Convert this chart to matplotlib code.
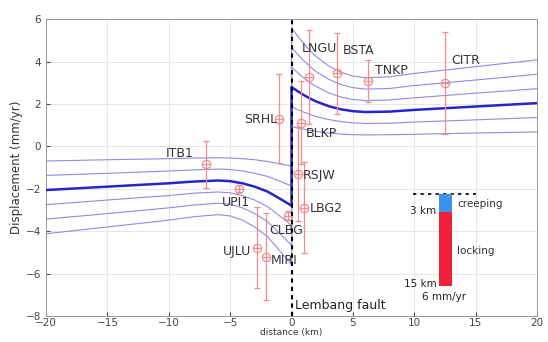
import numpy as np
import matplotlib.pyplot as plt

# model curves, left and right of the fault
x_left = [-20, -15, -10, -8, -6, -5, -4, -3, -2, -1.5, -1, -0.5, 0]
x_right = [0, 0.5, 1, 1.5, 2, 3, 4, 5, 6, 8, 10, 15, 20]

best_left = [-2.06, -1.90, -1.74, -1.66, -1.61, -1.64, -1.74, -1.90, -2.12, -2.28, -2.45, -2.62, -2.80]
best_right = [2.80, 2.60, 2.42, 2.26, 2.12, 1.90, 1.75, 1.66, 1.62, 1.64, 1.72, 1.88, 2.04]

thin_left = [
    [-0.69, -0.63, -0.58, -0.55, -0.54, -0.55, -0.58, -0.63, -0.71, -0.76, -0.82, -0.87, -0.93],
    [-1.37, -1.27, -1.16, -1.11, -1.07, -1.09, -1.16, -1.27, -1.41, -1.52, -1.63, -1.75, -1.87],
    [-2.75, -2.53, -2.32, -2.21, -2.15, -2.19, -2.32, -2.53, -2.83, -3.04, -3.27, -3.49, -3.73],
    [-3.43, -3.17, -2.90, -2.77, -2.68, -2.73, -2.90, -3.17, -3.53, -3.80, -4.08, -4.37, -4.67],
    [-4.12, -3.80, -3.48, -3.32, -3.22, -3.28, -3.48, -3.80, -4.24, -4.56, -4.90, -5.24, -5.60],
]
thin_right = [
    [0.93, 0.87, 0.81, 0.75, 0.71, 0.63, 0.58, 0.55, 0.54, 0.55, 0.57, 0.63, 0.68],
    [1.87, 1.73, 1.61, 1.51, 1.41, 1.27, 1.17, 1.11, 1.08, 1.09, 1.15, 1.25, 1.36],
    [3.73, 3.47, 3.23, 3.01, 2.83, 2.53, 2.33, 2.21, 2.16, 2.19, 2.29, 2.51, 2.72],
    [4.67, 4.33, 4.03, 3.77, 3.53, 3.17, 2.92, 2.77, 2.70, 2.73, 2.87, 3.13, 3.40],
    [5.60, 5.20, 4.84, 4.52, 4.24, 3.80, 3.50, 3.32, 3.24, 3.28, 3.44, 3.76, 4.08],
]

# GPS stations
stations = ['ITB1', 'UPI1', 'UJLU', 'MIRI', 'SRHL', 'CLBG', 'BLKP', 'RSJW', 'LBG2',
            'LNGU', 'BSTA', 'TNKP', 'CITR']
st_x = [-7.0, -4.3, -2.8, -2.05, -1.0, -0.3, 0.75, 0.5, 1.0, 1.45, 3.7, 6.2, 12.5]
st_y = [-0.85, -2.0, -4.77, -5.2, 1.3, -3.27, 1.12, -1.3, -2.9, 3.27, 3.45, 3.08, 3.0]
st_err = [1.1, 0.17, 1.9, 2.05, 2.1, 0.2, 1.96, 2.2, 2.15, 2.2, 1.9, 1.0, 2.4]
lab_x = [-9.1, -4.5, -3.3, -1.7, -1.15, -1.8, 1.15, 0.9, 1.5, 0.8, 4.15, 6.8, 13.0]
lab_y = [-0.33, -2.66, -4.95, -5.4, 1.26, -3.97, 0.6, -1.36, -2.95, 4.6, 4.5, 3.6, 4.05]
lab_ha = ['center', 'center', 'right', 'left', 'right', 'left', 'left', 'left', 'left',
          'left', 'left', 'left', 'left']

fig = plt.figure(figsize=(5.48, 3.42), dpi=100)
ax = fig.add_axes([0.084, 0.076, 0.896, 0.868])

thin_col = '#8c8ce6'
for yl, yr in zip(thin_left, thin_right):
    ax.plot(x_left + x_right, yl + yr, color=thin_col, lw=0.8, zorder=2)
ax.plot(x_left + x_right, best_left + best_right, color='#2626c8', lw=1.8, zorder=3)

red = '#f08c8c'
ax.errorbar(st_x, st_y, yerr=st_err, fmt='o', mfc='none', mec=red, ecolor=red,
            ms=6, mew=0.9, elinewidth=0.9, capsize=2, zorder=4)
ax.plot(st_x, st_y, '_', color=red, ms=6, mew=0.9, zorder=4)
for name, tx, ty, ha in zip(stations, lab_x, lab_y, lab_ha):
    ax.text(tx, ty, name, fontsize=9, ha=ha, va='center', color='#333333', zorder=5)

# fault trace
ax.plot([0, 0], [-8, 6], color='k', lw=1.5, ls=(0, (2, 2)), zorder=5)
ax.text(0.3, -7.5, 'Lembang fault', fontsize=9, va='center', color='#222222')

# fault geometry sketch
ax.plot([9.9, 15.0], [-2.24, -2.24], color='k', lw=1.2, ls=(0, (2, 2.5)))
ax.bar(12.55, -3.08 + 2.24, bottom=-2.24, width=1.1, color='#4090ee', zorder=3)
ax.bar(12.55, -6.6 + 3.08, bottom=-3.08, width=1.1, color='#f0203c', zorder=3)
ax.text(13.5, -2.7, 'creeping', fontsize=7.5, va='center', color='#333333')
ax.text(13.5, -4.95, 'locking', fontsize=7.5, va='center', color='#333333')
ax.text(11.8, -3.05, '3 km', fontsize=7.5, ha='right', va='center', color='#222222')
ax.text(11.8, -6.5, '15 km', fontsize=7.5, ha='right', va='center', color='#222222')
ax.text(12.4, -7.1, '6 mm/yr', fontsize=7.5, ha='center', va='center', color='#222222')

ax.set_xlim(-20, 20)
ax.set_ylim(-8, 6)
ax.set_xticks(np.arange(-20, 21, 5))
ax.set_yticks(np.arange(-8, 7, 2))
ax.grid(True, color='#e6e6e6', lw=0.7)
ax.set_axisbelow(True)
ax.tick_params(direction='in', labelsize=7.5, length=3, colors='#444444')
ax.tick_params(axis='x', pad=1.5)
for s in ax.spines.values():
    s.set_color('#999999')
    s.set_linewidth(0.7)
ax.set_xlabel('distance (km)', fontsize=6.5, labelpad=0, color='#333333')
ax.set_ylabel('Displacement (mm/yr)', fontsize=8.5, labelpad=2, color='#333333')

fig.savefig('out.png', dpi=100)
